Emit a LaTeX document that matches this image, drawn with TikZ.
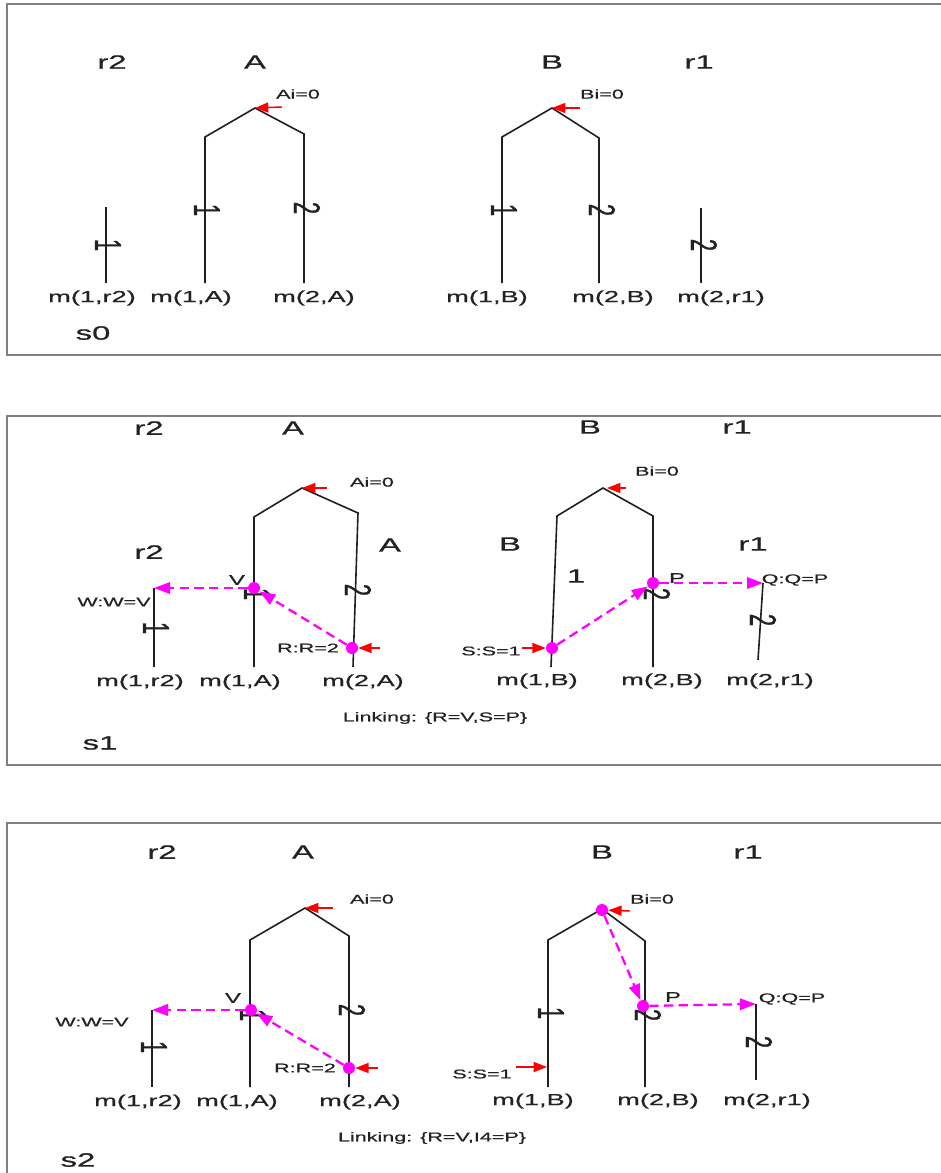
\documentclass[tikz,border=0pt]{standalone}
\usepackage{fontspec}
\usepackage{graphicx}
\usetikzlibrary{arrows.meta}
\newfontfamily\widef[FakeStretch=1.7,FakeBold=0.7]{Liberation Sans}
\newfontfamily\plainf[FakeBold=0.8]{Liberation Sans}
\newcommand\rotdig[1]{\scalebox{1.7}[1]{\rotatebox{-90}{\plainf\fontsize{16.5}{16.5}\selectfont #1}}}
\definecolor{bord}{HTML}{808080}
\definecolor{ln}{HTML}{202020}
\definecolor{txt}{HTML}{222222}
\definecolor{mag}{HTML}{FF00FF}
\definecolor{rd}{HTML}{FF0000}
\tikzset{
  big/.style={inner sep=0pt, text=txt, font=\widef\fontsize{14.5}{16}\selectfont},
  mid/.style={inner sep=0pt, text=txt, font=\widef\fontsize{12}{14}\selectfont},
  sml/.style={inner sep=0pt, text=txt, font=\widef\fontsize{9.5}{11}\selectfont},
  dig/.style={inner sep=0pt, text=txt},
  frame/.style={draw=bord, line width=2.2pt},
  tree/.style={draw=ln, line width=1.2pt},
  redarr/.style={draw=rd, line width=1.1pt, -{Triangle[length=10pt,width=7.5pt]}},
  magarr/.style={draw=mag, line width=1.7pt, dash pattern=on 7pt off 4pt, -{Triangle[length=12pt,width=8.5pt]}},
  magdot/.style={circle, fill=mag, inner sep=0pt, minimum size=9pt},
}
\begin{document}
\begin{tikzpicture}[x=0.75pt,y=-0.75pt]
\useasboundingbox (0,0) rectangle (941,1173);
\fill[white] (0,0) rectangle (941,1173);

% ================= panel s0 =================
\draw[frame] (941,4) -- (7,4) -- (7,355) -- (941,355);
\node[big] (p0r2) at (112,62) {r2};
\node[big] (p0A) at (255,62) {A};
\node[big] (p0B) at (552,62) {B};
\node[big] (p0r1) at (699,62) {r1};
\node[big] (p0s) at (93,333) {s0};
\node[sml] (p0Ai) at (298,94) {Ai=0};
\node[sml] (p0Bi) at (602,94) {Bi=0};
\node[mid] (p0m1) at (92,298) {m(1,r2)};
\node[mid] (p0m2) at (191,298) {m(1,A)};
\node[mid] (p0m3) at (314,298) {m(2,A)};
\node[mid] (p0m4) at (487,298) {m(1,B)};
\node[mid] (p0m5) at (613,298) {m(2,B)};
\node[mid] (p0m6) at (721,298) {m(2,r1)};
\coordinate (p0a1) at (205,283); \coordinate (p0a2) at (205,137);
\coordinate (p0a3) at (255,108); \coordinate (p0a4) at (304,134);
\coordinate (p0a5) at (304,283);
\draw[tree] (p0a1) -- (p0a2) -- (p0a3) -- (p0a4) -- (p0a5);
\coordinate (p0b1) at (502,283); \coordinate (p0b2) at (502,137);
\coordinate (p0b3) at (552,108); \coordinate (p0b4) at (599,138);
\coordinate (p0b5) at (599,283);
\draw[tree] (p0b1) -- (p0b2) -- (p0b3) -- (p0b4) -- (p0b5);
\coordinate (p0r2t) at (106,207); \coordinate (p0r2b) at (106,283);
\draw[tree] (p0r2t) -- (p0r2b);
\coordinate (p0r1t) at (701,208); \coordinate (p0r1b) at (701,283);
\draw[tree] (p0r1t) -- (p0r1b);
\node[dig] (p0d1) at (108,245) {\rotdig{1}};
\node[dig] (p0d2) at (207,210) {\rotdig{1}};
\node[dig] (p0d3) at (307,208) {\rotdig{2}};
\node[dig] (p0d4) at (504,210) {\rotdig{1}};
\node[dig] (p0d5) at (602,210) {\rotdig{2}};
\node[dig] (p0d6) at (704,245) {\rotdig{2}};
\coordinate (p0ra) at (282,107);
\draw[redarr] (p0ra) -- (p0a3);
\coordinate (p0rb) at (580,108);
\draw[redarr] (p0rb) -- (p0b3);

% ================= panel s1 =================
\draw[frame] (941,416) -- (7,416) -- (7,765) -- (941,765);
\node[big] (p1r2) at (149,428) {r2};
\node[big] (p1A) at (293,428) {A};
\node[big] (p1B) at (590,427) {B};
\node[big] (p1r1) at (737,427) {r1};
\node[big] (p1r2b) at (149,552) {r2};
\node[big] (p1Ab) at (390,545) {A};
\node[big] (p1Bb) at (510,544) {B};
\node[big] (p1r1b) at (753,544) {r1};
\node[big] (p1one) at (576,576) {1};
\node[big] (p1s) at (100,743) {s1};
\node[sml] (p1Ai) at (372,482) {Ai=0};
\node[sml] (p1Bi) at (657,471) {Bi=0};
\node[sml, font=\widef\fontsize{10.5}{12}\selectfont] (p1V) at (237,580) {V};
\node[sml] (p1W) at (114,602) {W:W=V};
\node[sml] (p1R) at (308,648) {R:R=2};
\node[sml, font=\widef\fontsize{10.5}{12}\selectfont] (p1P) at (677,578) {P};
\node[sml] (p1Q) at (795,580) {Q:Q=P};
\node[sml] (p1S) at (491,651) {S:S=1};
\node[sml] (p1L) at (435,718) {Linking: \{R=V,S=P\}};
\node[mid] (p1m1) at (140,682) {m(1,r2)};
\node[mid] (p1m2) at (240,682) {m(1,A)};
\node[mid] (p1m3) at (363,682) {m(2,A)};
\node[mid] (p1m4) at (537,681) {m(1,B)};
\node[mid] (p1m5) at (662,681) {m(2,B)};
\node[mid] (p1m6) at (770,681) {m(2,r1)};
\coordinate (p1a1) at (254,667); \coordinate (p1a2) at (254,517);
\coordinate (p1a3) at (302,488); \coordinate (p1a4) at (358,513);
\coordinate (p1a5) at (353,667);
\draw[tree] (p1a1) -- (p1a2) -- (p1a3) -- (p1a4) -- (p1a5);
\coordinate (p1b1) at (551,667); \coordinate (p1b2) at (557,516);
\coordinate (p1b3) at (603,488); \coordinate (p1b4) at (653,516);
\coordinate (p1b5) at (653,667);
\draw[tree] (p1b1) -- (p1b2) -- (p1b3) -- (p1b4) -- (p1b5);
\coordinate (p1r2t) at (154,588); \coordinate (p1r2bt) at (154,667);
\draw[tree] (p1r2t) -- (p1r2bt);
\coordinate (p1r1t) at (763,583); \coordinate (p1r1bt) at (758,660);
\draw[tree] (p1r1t) -- (p1r1bt);
\node[dig] (p1d1) at (156,628) {\rotdig{1}};
\node[dig] (p1d2) at (257,594) {\rotdig{1}};
\node[dig] (p1d3) at (358,590) {\rotdig{2}};
\node[dig] (p1d4) at (657,594) {\rotdig{2}};
\node[dig] (p1d5) at (763,620) {\rotdig{2}};
\coordinate (p1ra) at (327,488);
\draw[redarr] (p1ra) -- (p1a3);
\coordinate (p1rb) at (626,488);
\draw[redarr] (p1rb) -- ([xshift=3pt]p1b3);
\node[magdot] (p1Vd) at (254,588) {};
\node[magdot] (p1Rd) at (352,648) {};
\node[magdot] (p1Pd) at (653,583) {};
\node[magdot] (p1Sd) at (552,648) {};
\coordinate (p1rr) at (380,648);
\draw[redarr] (p1rr) -- (p1Rd);
\coordinate (p1rs) at (522,648);
\draw[redarr] (p1rs) -- (p1Sd);
\draw[magarr] (p1Vd) -- (p1r2t);
\draw[magarr] (p1Rd) -- (p1Vd);
\draw[magarr] (p1Sd) -- (p1Pd);
\draw[magarr] (p1Pd) -- (p1r1t);

% ================= panel s2 =================
\draw[frame] (941,823) -- (7,823) -- (7,1173);
\node[big] (p2r2) at (162,852) {r2};
\node[big] (p2A) at (303,852) {A};
\node[big] (p2B) at (602,852) {B};
\node[big] (p2r1) at (748,852) {r1};
\node[big] (p2s) at (78,1160) {s2};
\node[sml] (p2Ai) at (372,899) {Ai=0};
\node[sml] (p2Bi) at (652,899) {Bi=0};
\node[sml, font=\widef\fontsize{10.5}{12}\selectfont] (p2V) at (233,998) {V};
\node[sml] (p2W) at (92,1022) {W:W=V};
\node[sml] (p2R) at (305,1068) {R:R=2};
\node[sml, font=\widef\fontsize{10.5}{12}\selectfont] (p2P) at (673,997) {P};
\node[sml] (p2Q) at (792,999) {Q:Q=P};
\node[sml] (p2S) at (482,1074) {S:S=1};
\node[sml] (p2L) at (432,1138) {Linking: \{R=V,I4=P\}};
\node[mid] (p2m1) at (138,1102) {m(1,r2)};
\node[mid] (p2m2) at (237,1102) {m(1,A)};
\node[mid] (p2m3) at (360,1102) {m(2,A)};
\node[mid] (p2m4) at (533,1101) {m(1,B)};
\node[mid] (p2m5) at (658,1101) {m(2,B)};
\node[mid] (p2m6) at (767,1101) {m(2,r1)};
\coordinate (p2a1) at (250,1087); \coordinate (p2a2) at (250,940);
\coordinate (p2a3) at (305,908); \coordinate (p2a4) at (349,936);
\coordinate (p2a5) at (349,1087);
\draw[tree] (p2a1) -- (p2a2) -- (p2a3) -- (p2a4) -- (p2a5);
\coordinate (p2b1) at (548,1087); \coordinate (p2b2) at (548,940);
\coordinate (p2b3) at (602,909); \coordinate (p2b4) at (645,941);
\coordinate (p2b5) at (645,1087);
\draw[tree] (p2b1) -- (p2b2) -- (p2b3) -- (p2b4) -- (p2b5);
\coordinate (p2r2t) at (152,1010); \coordinate (p2r2bt) at (152,1087);
\draw[tree] (p2r2t) -- (p2r2bt);
\coordinate (p2r1t) at (756,1004); \coordinate (p2r1bt) at (756,1080);
\draw[tree] (p2r1t) -- (p2r1bt);
\node[dig] (p2d1) at (154,1047) {\rotdig{1}};
\node[dig] (p2d2) at (253,1015) {\rotdig{1}};
\node[dig] (p2d3) at (352,1010) {\rotdig{2}};
\node[dig] (p2d4) at (551,1013) {\rotdig{1}};
\node[dig] (p2d5) at (648,1015) {\rotdig{2}};
\node[dig] (p2d6) at (759,1042) {\rotdig{2}};
\coordinate (p2ra) at (333,908);
\draw[redarr] (p2ra) -- (p2a3);
\node[magdot] (p2Vd) at (251,1010) {};
\node[magdot] (p2Rd) at (349,1068) {};
\node[magdot] (p2Bd) at (602,910) {};
\node[magdot] (p2Pd) at (643,1006) {};
\coordinate (p2rb) at (630,911);
\draw[redarr] (p2rb) -- (p2Bd);
\coordinate (p2rr) at (378,1068);
\draw[redarr] (p2rr) -- (p2Rd);
\coordinate (p2rsa) at (516,1067); \coordinate (p2rsb) at (547,1067);
\draw[redarr] (p2rsa) -- (p2rsb);
\draw[magarr] (p2Vd) -- (p2r2t);
\draw[magarr] (p2Rd) -- (p2Vd);
\draw[magarr] (p2Bd) -- (p2Pd);
\draw[magarr] (p2Pd) -- (p2r1t);
\end{tikzpicture}
\end{document}
